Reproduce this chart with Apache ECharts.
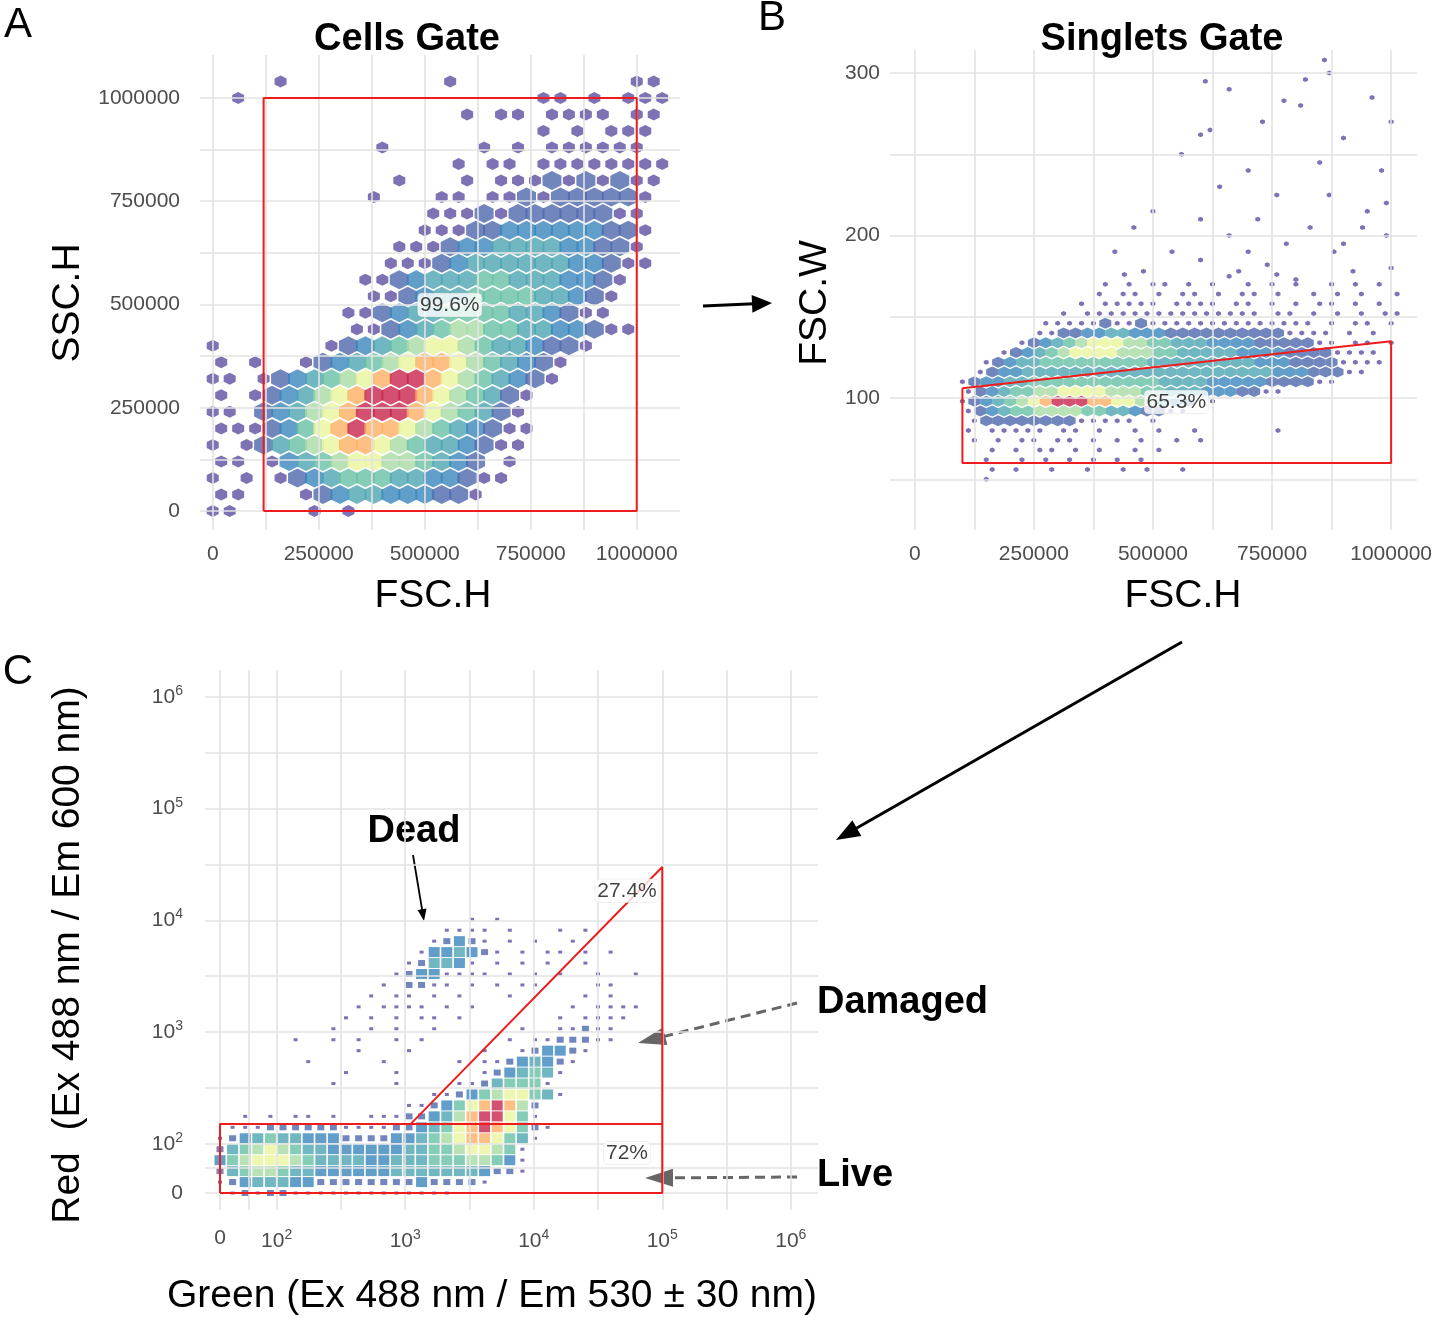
<!DOCTYPE html>
<html>
<head>
<meta charset="UTF-8">
<script src="https://cdn.jsdelivr.net/npm/echarts@6/dist/echarts.min.js"></script>
<style>html,body{margin:0;background:#fff}#main{width:1435px;height:1318px}</style>
</head>
<body>
<div id="main"></div>
<script>
// ---- data ----
// panel A hex density, rows from y=1040000 down to 0, 40000 per cell; cols x=0..1040000
var cellsRowsA = [
  "....1.........1..........11",
  ".1.................11.1.111",
  "...............1.11.1111.11",
  "...................1.1.111.",
  "..........1.....1.1.111111.",
  "..............1.11.11111111",
  "...........1...1.1112121211",
  ".........1...11.1121222221.",
  ".............1112122222211.",
  "............11122333333221.",
  "...........111233444433221.",
  "..........1112344444433211.",
  ".........1123444554443321..",
  ".........112344555544321...",
  "........1123445555443211...",
  "........11234566554433211..",
  "1......1234567765443221....",
  "1.1..1234567887654321......",
  "11.123456789987654321......",
  "1.12346789998765421........",
  "11.2346789998765421........",
  "1112357898876543211........",
  "1.12456788765443211........",
  "11.1345677665432.1.........",
  "1.1.12345554433211.........",
  "11...12344333221...........",
  "11....1.1.................."
];
// panel B density, rows y=170 down to 50 step 6; cols x=100000..1000000 step 25000
var cellsRowsB = [
  "............1.1.11.1.1..1.1.1..1.1.1.",
  "...........1.11.1.11.1.11.1..1.1.1..1",
  "..........1.11111.1111.11.1.1.11.1.1.",
  "........1.111111111111111.11.1.1.1.11",
  ".......11111211211111111111111.1.11.1",
  "......1122334433322222222221111.1.1..",
  ".....123456777665544433332222211.11.1",
  "...12345677776665544444333322221111..",
  "..1234455555555544444444433322221111.",
  ".123344444444444444444444433322211...",
  "12334455555555555444433333222211.....",
  "123455667777666554443332211..........",
  "12345678999887765432.1...............",
  "1234556666554432211..................",
  ".12222222211111.1....................",
  "1.11111.11.1..1.1..1......1..........",
  ".1.1.11.11.1.1.1..1.1................",
  "..1.1.11.1.1..1.1....................",
  "..1..1.1.1.1.1.1.....................",
  "..1.1..1..1..1.1..1..................",
  "..1.................................."
];
// panel B sparse events above the band [FSC.H, FSC.W]
var outliersB = [[540000,190],[600000,185],[660000,200],[720000,210],[780000,195],[830000,205],[880000,190],
  [950000,215],[990000,200],[640000,230],[700000,240],[760000,225],[850000,245],[900000,260],[990000,220],
  [560000,250],[620000,265],[730000,270],[810000,280],[870000,300],[960000,285],[1000000,270],[500000,215],
  [460000,205],[420000,190],[480000,178],[680000,178],[740000,182],[920000,178],[980000,240],[940000,205],
  [870000,225],[600000,210],[660000,175],[800000,173],[900000,195],[1000000,180],[860000,308],[820000,296],
  [775000,283],[660000,290],[600000,262],[610000,295],[440000,176],[700000,190],[760000,176]];
// panel C density, rows display-units 2.5 down to 0 step 0.1; cols 0..3.3 step 0.1
var cellsRowsC = [
  "....................1.1...........",
  "..................1111.1...1.1....",
  ".................12321.1.1..1.....",
  "................1334321.1.11.1.1..",
  "...............124431.1.1.1..1....",
  "..............12331111.1.1.1..1..1",
  ".............1.2211.1.1.11....11..",
  "............1.11.1.1...1.....1.1..",
  "...........1.1111.1.1.......1.1111",
  "..........1.1.1.11.1.......1.1111.",
  ".........1..1.1..1......1..11211..",
  "......1..1.1..1.1......1.1122211..",
  "...........1...1.....1..123321....",
  ".......1.....1.....1.11234321.....",
  "..........1...1......1234541......",
  ".........1....1....11245551.......",
  ".................11235677541......",
  "...............11235789862........",
  "..1.1.11.1..11122346899751........",
  ".11122222211112234578987521.......",
  "12345443332222334567887541........",
  "2456765443333334455677651.........",
  "3567776544443344455566531.........",
  "2456654433333344444443221.........",
  "1234443322222222322221............",
  ".121221111111111111..............."
];
var ticksA = [0, 250000, 500000, 750000, 1000000];
var ticksBy = [100, 200, 300];
var ticksC = [0, 100, 1000, 10000, 100000, 1000000];
var ticksCLabels = ['0', '10{s|2}', '10{s|3}', '10{s|4}', '10{s|5}', '10{s|6}'];
var gateA = [[120000, 0], [120000, 1000000], [1000000, 1000000], [1000000, 0], [120000, 0]];
var gateB = [[100000, 106], [1000000, 135], [1000000, 60], [100000, 60], [100000, 106]];
var gateLive = [[0, 0], [100000, 0], [100000, 150], [0, 150], [0, 0]];
var gateDead = [[1100, 150], [100000, 30000], [100000, 150]];
var levelColors = ['#5e4fa2', '#4d68ad', '#3a86bb', '#4ea5b2', '#68c1a6', '#a8dba5', '#eaf59b', '#fdb063', '#c8244e'];

// biexponential-like display scale for panel C
function tC(v) { return v <= 100 ? 0.45 * v / 100 : 0.45 + (Math.log10(v) - 2) * 1.02; }

function decode(rows, x0, dx, yTop, dy, stagger) {
  var out = [];
  rows.forEach(function (r, i) {
    for (var j = 0; j < r.length; j++) {
      var c = r.charAt(j);
      if (c !== '.') out.push([x0 + (j + (stagger && i % 2 ? 0.5 : 0)) * dx, yTop - i * dy, +c]);
    }
  });
  return out;
}
var hexA = decode(cellsRowsA, 0, 40000, 1040000, 40000, true);
var hexB = decode(cellsRowsB, 100000, 25000, 170, 6, true).concat(outliersB.map(function (p) { return [p[0], p[1], 1]; }));
var hexC = decode(cellsRowsC, 0, 0.1, 2.5, 0.1, false);

var HEX = 'path://M0,-1L0.866,-0.5L0.866,0.5L0,1L-0.866,0.5L-0.866,-0.5Z';

function range(a, b, s) { var r = []; for (var v = a; v <= b + 1e-9; v += s) r.push(v); return r; }
function gridSeries(idx, xs, ys) {
  return {
    type: 'scatter', xAxisIndex: idx, yAxisIndex: idx, data: [], silent: true,
    markLine: {
      silent: true, symbol: 'none', animation: false, label: { show: false },
      lineStyle: { color: '#e3e3e3', type: 'solid', width: 1.6 },
      data: xs.map(function (v) { return { xAxis: v }; }).concat(ys.map(function (v) { return { yAxis: v }; }))
    }
  };
}
function gateSeries(idx, pts) {
  return { type: 'line', xAxisIndex: idx, yAxisIndex: idx, data: pts, symbol: 'none', silent: true,
    lineStyle: { color: '#ee1c1c', width: 2 }, z: 5 };
}
function pctSeries(idx, x, y, txt) {
  return { type: 'scatter', xAxisIndex: idx, yAxisIndex: idx, data: [[x, y]], symbolSize: 0, z: 6,
    label: { show: true, formatter: txt, position: 'inside', fontSize: 21, color: '#111', fontFamily: 'Liberation Sans, Arial',
      backgroundColor: '#fff', borderRadius: 4, padding: [1, 2], borderColor: '#ddd', borderWidth: 0.5 } };
}
function arrow(x1, y1, x2, y2, len, w, color, lw, dash) {
  var dx = x2 - x1, dy = y2 - y1, n = Math.sqrt(dx * dx + dy * dy), ux = dx / n, uy = dy / n;
  var bx = x2 - ux * len, by = y2 - uy * len;
  return [
    { type: 'line', shape: { x1: x1, y1: y1, x2: bx + ux * 2, y2: by + uy * 2 }, style: { stroke: color, lineWidth: lw, lineDash: dash || null } },
    { type: 'polygon', shape: { points: [[x2, y2], [bx - uy * w, by + ux * w], [bx + uy * w, by - ux * w]] }, style: { fill: color } }
  ];
}
function txt(x, y, s, size, weight, align, rot) {
  return { type: 'text', x: x, y: y, rotation: rot || 0,
    style: { text: s, fontSize: size, fontWeight: weight || 'normal', fill: '#000', align: align || 'center', verticalAlign: 'middle', fontFamily: 'Liberation Sans, Arial' } };
}

var lab = { color: '#4d4d4d', fontSize: 21, fontFamily: 'Liberation Sans, Arial', formatter: function (v) { return String(v); } };
function axisBase(extra) {
  return Object.assign({ type: 'value', axisLine: { show: false }, axisTick: { show: false }, splitLine: { show: false } }, extra);
}
var cLab = Object.assign({}, lab, {
  customValues: ticksC.map(tC),
  formatter: function (v) {
    var best = 0;
    ticksC.forEach(function (t, i) { if (Math.abs(tC(t) - v) < Math.abs(tC(ticksC[best]) - v)) best = i; });
    return ticksCLabels[best];
  },
  rich: { s: { fontSize: 14, verticalAlign: 'top', padding: [0, 0, 12, 0], color: '#4d4d4d' } }
});
var uMajor = ticksC.map(tC);
var uMinor = [0.225].concat([1, 2, 3, 4].map(function (i) { return (uMajor[i] + uMajor[i + 1]) / 2; }));

var graphics = []
  .concat(arrow(703, 306, 772, 303, 20, 9, '#000', 3))
  .concat(arrow(1182, 642, 836, 840, 24, 9, '#000', 3))
  .concat(arrow(413, 855, 424, 921, 12, 4.5, '#000', 1.8))
  .concat(arrow(797, 1003, 638, 1043, 28, 9, '#666', 3, [10, 6]))
  .concat(arrow(797, 1177, 645, 1178, 28, 9, '#666', 3, [10, 6]))
  .concat([
    txt(18, 25, 'A', 42), txt(772, 18, 'B', 42), txt(18, 672, 'C', 42),
    txt(407, 40, 'Cells Gate', 38, 'bold'), txt(1162, 40, 'Singlets Gate', 38, 'bold'),
    txt(433, 596, 'FSC.H', 39), txt(1183, 596, 'FSC.H', 39),
    txt(68, 303, 'SSC.H', 39, 'normal', 'center', Math.PI / 2),
    txt(815, 303, 'FSC.W', 39, 'normal', 'center', Math.PI / 2),
    txt(492, 1296, 'Green (Ex 488 nm / Em 530 \u00b1 30 nm)', 39),
    txt(68, 955, 'Red  (Ex 488 nm / Em 600 nm)', 39, 'normal', 'center', Math.PI / 2),
    txt(414, 832, 'Dead', 38, 'bold'), txt(817, 1003, 'Damaged', 38, 'bold', 'left'), txt(817, 1176, 'Live', 38, 'bold', 'left')
  ]);

var option = {
  animation: false,
  backgroundColor: '#fff',
  grid: [
    { left: 200, top: 55, width: 480, height: 475 },
    { left: 890, top: 50, width: 530, height: 480 },
    { left: 205, top: 670, width: 613, height: 540 }
  ],
  xAxis: [
    axisBase({ gridIndex: 0, min: -30000, max: 1102000, axisLabel: Object.assign({ customValues: ticksA, margin: 14 }, lab) }),
    axisBase({ gridIndex: 1, min: -52000, max: 1054000, axisLabel: Object.assign({ customValues: ticksA, margin: 14 }, lab) }),
    axisBase({ gridIndex: 2, min: -0.119, max: 4.746, axisLabel: Object.assign({ margin: 18 }, cLab) })
  ],
  yAxis: [
    axisBase({ gridIndex: 0, min: -46000, max: 1104000, axisLabel: Object.assign({ customValues: ticksA, margin: 20 }, lab) }),
    axisBase({ gridIndex: 1, min: 18.8, max: 314.2, axisLabel: Object.assign({ customValues: ticksBy, margin: 10 }, lab) }),
    axisBase({ gridIndex: 2, min: -0.155, max: 4.776, axisLabel: Object.assign({ margin: 22 }, cLab) })
  ],
  visualMap: {
    show: false, type: 'piecewise', dimension: 2, seriesIndex: [3, 4, 5],
    pieces: levelColors.map(function (c, i) { return { value: i + 1, color: c }; })
  },
  series: [
    gridSeries(0, range(0, 1000000, 125000), range(0, 1000000, 125000)),
    gridSeries(1, range(0, 1000000, 125000), range(50, 300, 50)),
    gridSeries(2, uMajor.concat(uMinor), uMajor.concat(uMinor)),
    { type: 'scatter', xAxisIndex: 0, yAxisIndex: 0, data: hexA, symbol: HEX, symbolSize: function (d) { return d[2] > 1 ? [19, 19] : [12, 12]; }, silent: true },
    { type: 'scatter', xAxisIndex: 1, yAxisIndex: 1, data: hexB, symbol: HEX, symbolSize: function (d) { return d[2] > 1 ? [12, 11] : [5, 5]; }, silent: true },
    { type: 'scatter', xAxisIndex: 2, yAxisIndex: 2, data: hexC, symbol: 'rect', symbolSize: function (d) { return d[2] > 2 ? [11, 10] : d[2] > 1 ? [7, 6] : [4, 3]; }, silent: true },
    gateSeries(0, gateA),
    gateSeries(1, gateB),
    gateSeries(2, gateLive.map(function (p) { return [tC(p[0]), tC(p[1])]; })),
    gateSeries(2, gateDead.map(function (p) { return [tC(p[0]), tC(p[1])]; })),
    pctSeries(0, 559000, 499000, '99.6%'),
    pctSeries(1, 549000, 97.5, '65.3%'),
    pctSeries(2, 3.23, 2.76, '27.4%'),
    pctSeries(2, 3.23, 0.365, '72%')
  ],
  graphic: graphics
};
echarts.init(document.getElementById('main')).setOption(option);
</script>
</body>
</html>
